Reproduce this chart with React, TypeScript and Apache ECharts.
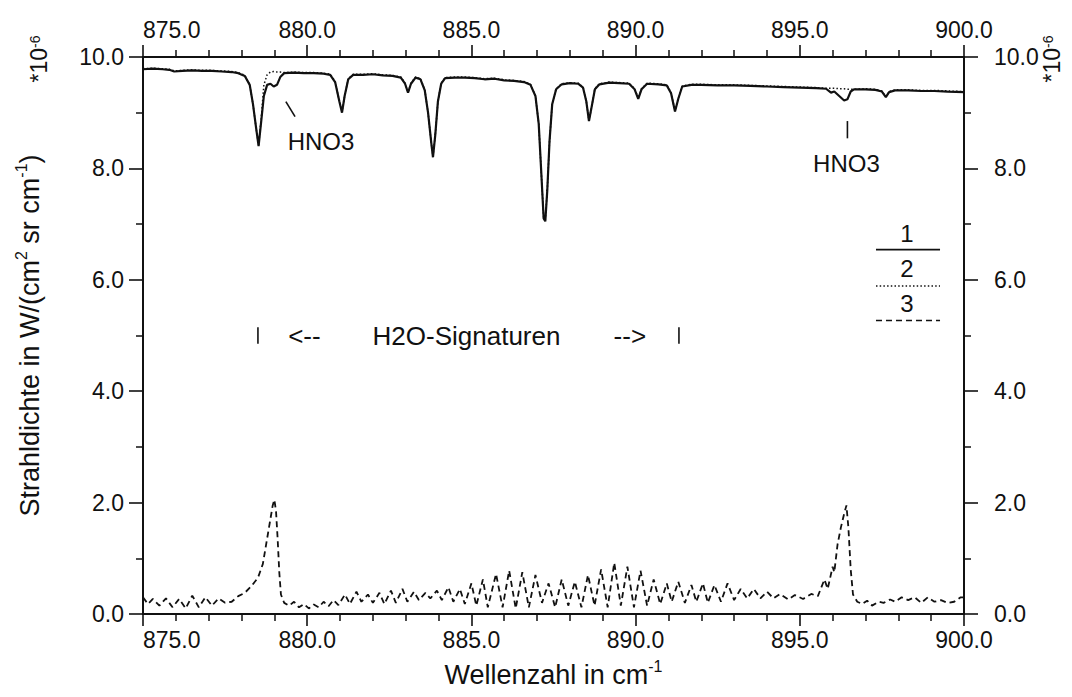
import React, { useEffect, useRef } from "react";
import * as echarts from "echarts";

// ---------------- data ----------------
const X_MIN = 875;
const X_MAX = 900;
const Y_MIN = 0;
const Y_MAX = 10;

// curve 1 (solid): measured spectrum, units 1e-6 W/(cm2 sr cm-1)
const spectrum1: [number, number][] = [
  [875.0, 9.78], [875.3, 9.79], [875.6, 9.78], [875.8, 9.77], [875.95, 9.74], [876.2, 9.75],
  [876.5, 9.76], [876.8, 9.75], [877.1, 9.75], [877.4, 9.74], [877.7, 9.73], [877.9, 9.71],
  [878.1, 9.66], [878.25, 9.5], [878.35, 9.15], [878.45, 8.7], [878.52, 8.4], [878.6, 8.85],
  [878.68, 9.3], [878.78, 9.5], [878.88, 9.52], [878.98, 9.47], [879.08, 9.5], [879.18, 9.64],
  [879.3, 9.71], [879.6, 9.72], [879.9, 9.71], [880.2, 9.71], [880.5, 9.7], [880.7, 9.68],
  [880.85, 9.55], [880.98, 9.2], [881.06, 9.0], [881.14, 9.3], [881.25, 9.6], [881.4, 9.68],
  [881.7, 9.68], [882.0, 9.69], [882.3, 9.67], [882.6, 9.66], [882.85, 9.63], [882.98, 9.52],
  [883.07, 9.36], [883.16, 9.52], [883.3, 9.63], [883.45, 9.6], [883.58, 9.4], [883.68, 9.0],
  [883.78, 8.45], [883.83, 8.2], [883.9, 8.6], [883.98, 9.2], [884.08, 9.52], [884.2, 9.62],
  [884.5, 9.63], [884.8, 9.63], [885.1, 9.62], [885.4, 9.6], [885.7, 9.61], [886.0, 9.58],
  [886.3, 9.57], [886.6, 9.55], [886.8, 9.5], [886.95, 9.3], [887.05, 8.8], [887.13, 7.9],
  [887.2, 7.1], [887.25, 7.05], [887.31, 7.6], [887.38, 8.5], [887.46, 9.15], [887.58, 9.42],
  [887.75, 9.51], [888.0, 9.53], [888.25, 9.52], [888.4, 9.45], [888.5, 9.2], [888.58, 8.85],
  [888.66, 9.1], [888.76, 9.42], [888.9, 9.51], [889.2, 9.54], [889.5, 9.53], [889.8, 9.52],
  [889.97, 9.42], [890.08, 9.25], [890.18, 9.42], [890.35, 9.52], [890.7, 9.51], [890.95, 9.49],
  [891.08, 9.35], [891.2, 9.02], [891.3, 9.25], [891.42, 9.47], [891.7, 9.5], [892.0, 9.5],
  [892.5, 9.49], [893.0, 9.49], [893.5, 9.48], [894.0, 9.47], [894.5, 9.46], [895.0, 9.45],
  [895.5, 9.44], [895.8, 9.43], [895.95, 9.36], [896.05, 9.38], [896.2, 9.3], [896.35, 9.22],
  [896.45, 9.24], [896.55, 9.38], [896.65, 9.42], [897.0, 9.42], [897.3, 9.41], [897.5, 9.38],
  [897.62, 9.28], [897.72, 9.37], [897.9, 9.4], [898.3, 9.4], [898.7, 9.39], [899.1, 9.39],
  [899.5, 9.38], [900.0, 9.37],
];

// curve 2 (dotted): calculated spectrum without HNO3
const spectrum2: [number, number][] = [
  [875.0, 9.79], [875.3, 9.8], [875.6, 9.79], [875.8, 9.78], [875.95, 9.75], [876.2, 9.76],
  [876.5, 9.77], [876.8, 9.76], [877.1, 9.76], [877.4, 9.75], [877.7, 9.74], [877.9, 9.72],
  [878.1, 9.67], [878.25, 9.5], [878.35, 9.15], [878.45, 8.7], [878.52, 8.42], [878.6, 8.9],
  [878.68, 9.5], [878.78, 9.68], [878.88, 9.73], [878.98, 9.74], [879.08, 9.73], [879.18, 9.73],
  [879.3, 9.72], [879.6, 9.73], [879.9, 9.72], [880.2, 9.72], [880.5, 9.71], [880.7, 9.69],
  [880.85, 9.56], [880.98, 9.2], [881.06, 9.02], [881.14, 9.3], [881.25, 9.61], [881.4, 9.69],
  [881.7, 9.69], [882.0, 9.7], [882.3, 9.68], [882.6, 9.67], [882.85, 9.64], [882.98, 9.53],
  [883.07, 9.37], [883.16, 9.53], [883.3, 9.64], [883.45, 9.61], [883.58, 9.41], [883.68, 9.0],
  [883.78, 8.45], [883.83, 8.22], [883.9, 8.6], [883.98, 9.2], [884.08, 9.53], [884.2, 9.63],
  [884.5, 9.64], [884.8, 9.64], [885.1, 9.63], [885.4, 9.61], [885.7, 9.62], [886.0, 9.59],
  [886.3, 9.58], [886.6, 9.56], [886.8, 9.51], [886.95, 9.3], [887.05, 8.8], [887.13, 7.9],
  [887.2, 7.12], [887.25, 7.08], [887.31, 7.6], [887.38, 8.5], [887.46, 9.15], [887.58, 9.43],
  [887.75, 9.52], [888.0, 9.54], [888.25, 9.53], [888.4, 9.46], [888.5, 9.2], [888.58, 8.86],
  [888.66, 9.1], [888.76, 9.43], [888.9, 9.52], [889.2, 9.55], [889.5, 9.54], [889.8, 9.53],
  [889.97, 9.43], [890.08, 9.26], [890.18, 9.43], [890.35, 9.53], [890.7, 9.52], [890.95, 9.5],
  [891.08, 9.36], [891.2, 9.03], [891.3, 9.26], [891.42, 9.48], [891.7, 9.51], [892.0, 9.51],
  [892.5, 9.5], [893.0, 9.5], [893.5, 9.49], [894.0, 9.48], [894.5, 9.47], [895.0, 9.46],
  [895.5, 9.45], [895.8, 9.44], [895.95, 9.44], [896.05, 9.44], [896.2, 9.43], [896.35, 9.43],
  [896.45, 9.42], [896.55, 9.42], [896.65, 9.42], [897.0, 9.43], [897.3, 9.42], [897.5, 9.39],
  [897.62, 9.29], [897.72, 9.38], [897.9, 9.41], [898.3, 9.41], [898.7, 9.4], [899.1, 9.4],
  [899.5, 9.39], [900.0, 9.38],
];

// curve 3 (dashed): difference / residual
const spectrum3: [number, number][] = [
  [875.0, 0.3], [875.15, 0.18], [875.3, 0.27], [875.5, 0.15], [875.7, 0.28], [875.9, 0.12],
  [876.1, 0.27], [876.3, 0.1], [876.5, 0.33], [876.7, 0.12], [876.9, 0.3], [877.1, 0.15],
  [877.3, 0.28], [877.5, 0.2], [877.7, 0.22], [877.9, 0.32], [878.1, 0.38], [878.3, 0.5],
  [878.5, 0.65], [878.65, 0.9], [878.75, 1.25], [878.85, 1.6], [878.95, 1.95], [879.0, 2.05],
  [879.05, 1.85], [879.1, 1.35], [879.15, 0.75], [879.2, 0.35], [879.3, 0.2], [879.45, 0.15],
  [879.6, 0.22], [879.75, 0.12], [879.9, 0.18], [880.05, 0.1], [880.2, 0.17], [880.35, 0.12],
  [880.5, 0.22], [880.65, 0.14], [880.8, 0.25], [880.95, 0.16], [881.15, 0.35], [881.3, 0.18],
  [881.5, 0.4], [881.65, 0.22], [881.85, 0.35], [882.0, 0.2], [882.2, 0.38], [882.35, 0.18],
  [882.55, 0.42], [882.7, 0.2], [882.9, 0.45], [883.05, 0.22], [883.25, 0.4], [883.4, 0.25],
  [883.6, 0.38], [883.75, 0.28], [883.95, 0.42], [884.1, 0.25], [884.3, 0.48], [884.45, 0.22],
  [884.65, 0.45], [884.8, 0.18], [885.0, 0.55], [885.15, 0.15], [885.35, 0.62], [885.5, 0.12],
  [885.75, 0.72], [885.95, 0.12], [886.15, 0.78], [886.35, 0.1], [886.55, 0.75], [886.75, 0.12],
  [886.95, 0.7], [887.15, 0.2], [887.35, 0.55], [887.55, 0.12], [887.75, 0.62], [887.95, 0.15],
  [888.15, 0.58], [888.35, 0.12], [888.55, 0.7], [888.75, 0.15], [888.95, 0.8], [889.15, 0.12],
  [889.35, 0.92], [889.55, 0.15], [889.75, 0.85], [889.95, 0.12], [890.15, 0.78], [890.35, 0.15],
  [890.55, 0.62], [890.75, 0.18], [890.95, 0.55], [891.1, 0.22], [891.3, 0.58], [891.5, 0.2],
  [891.7, 0.52], [891.85, 0.22], [892.05, 0.55], [892.2, 0.2], [892.4, 0.52], [892.6, 0.22],
  [892.8, 0.55], [893.0, 0.25], [893.2, 0.45], [893.4, 0.28], [893.6, 0.45], [893.8, 0.28],
  [894.0, 0.4], [894.2, 0.28], [894.4, 0.36], [894.65, 0.26], [894.85, 0.34], [895.1, 0.27],
  [895.35, 0.36], [895.55, 0.32], [895.75, 0.62], [895.85, 0.45], [896.0, 0.85], [896.05, 0.75],
  [896.15, 1.25], [896.25, 1.55], [896.35, 1.8], [896.42, 1.95], [896.48, 1.55], [896.55, 0.8],
  [896.62, 0.35], [896.75, 0.22], [896.9, 0.18], [897.05, 0.24], [897.2, 0.15], [897.4, 0.22],
  [897.55, 0.2], [897.75, 0.26], [897.9, 0.22], [898.1, 0.3], [898.3, 0.25], [898.5, 0.3],
  [898.7, 0.2], [898.9, 0.3], [899.1, 0.22], [899.3, 0.25], [899.5, 0.2], [899.7, 0.22],
  [899.9, 0.3], [900.0, 0.3],
];

const legendLabels = ["1", "2", "3"];

// annotation anchors, in data units
const hno3Notes = [
  { text: "HNO3", at: [880.42, 8.48], from: [879.35, 9.2], to: [879.63, 8.93] },
  { text: "HNO3", at: [896.42, 8.09], from: [896.45, 8.85], to: [896.45, 8.54] },
];
const h2oRange = { left: 878.5, right: 891.32, level: 5.0, half: 0.15 };
const h2oTexts = [
  { text: "<--", x: 879.42, align: "left" },
  { text: "H2O-Signaturen", x: 884.85, align: "center" },
  { text: "-->", x: 890.32, align: "right" },
];
const legendAnchor = { x1: 897.32, x2: 899.27, labelX: 898.26, labelY: [6.84, 6.2, 5.57], lineY: [6.54, 5.89, 5.27] };

// ---------------- styles ----------------
const INK = "#111";
const TICK_FONT = "'Liberation Sans', Arial, sans-serif";
const TEXT_FONT = "'Liberation Sans', Arial, sans-serif";
const lineDashes: (number[] | "solid")[] = ["solid", [1.5, 2.2], [6, 4]];

const fmt = (v: number) => v.toFixed(1);

function xAxisCfg(position: "top" | "bottom", withName: boolean) {
  return {
    type: "value",
    position,
    min: X_MIN,
    max: X_MAX,
    interval: 5,
    axisLine: { show: true, onZero: false, lineStyle: { color: INK, width: 2 } },
    axisTick: { show: true, inside: false, length: 12, lineStyle: { color: INK, width: 1.6 } },
    minorTick: { show: true, splitNumber: 5, length: 7, lineStyle: { color: INK, width: 1.5 } },
    splitLine: { show: false },
    minorSplitLine: { show: false },
    axisLabel: {
      formatter: fmt,
      color: INK,
      fontSize: 23,
      fontFamily: TICK_FONT,
      margin: position === "bottom" ? 14 : 16,
      alignMinLabel: "left",
    },
    name: withName ? "Wellenzahl in cm{sup|-1}" : "",
    nameLocation: "middle",
    nameGap: 44,
    nameTextStyle: {
      color: INK,
      fontSize: 27,
      fontFamily: TEXT_FONT,
      lineHeight: 34,
      rich: { sup: { fontSize: 16, fontFamily: TEXT_FONT, color: INK, verticalAlign: "top", lineHeight: 34 } },
    },
  };
}

function yAxisCfg(position: "left" | "right", withName: boolean) {
  return {
    type: "value",
    position,
    min: Y_MIN,
    max: Y_MAX,
    interval: 2,
    axisLine: { show: true, onZero: false, lineStyle: { color: INK, width: 2 } },
    axisTick: { show: true, inside: false, length: 14, lineStyle: { color: INK, width: 1.6 } },
    minorTick: { show: true, splitNumber: 2, length: 7, lineStyle: { color: INK, width: 1.5 } },
    splitLine: { show: false },
    minorSplitLine: { show: false },
    axisLabel: {
      formatter: fmt,
      color: INK,
      fontSize: 23,
      fontFamily: TICK_FONT,
      margin: position === "left" ? 19 : 30,
    },
    name: withName ? "Strahldichte in W/(cm{sup|2} sr cm{sup|-1})" : "",
    nameLocation: "middle",
    nameRotate: 90,
    nameGap: 96,
    nameTextStyle: {
      color: INK,
      fontSize: 27,
      fontFamily: TEXT_FONT,
      lineHeight: 34,
      rich: { sup: { fontSize: 16, fontFamily: TEXT_FONT, color: INK, verticalAlign: "top", lineHeight: 34 } },
    },
  };
}

export default function App() {
  const ref = useRef<HTMLDivElement>(null);

  useEffect(() => {
    const el = ref.current;
    if (!el) return;
    const chart = echarts.init(el, null, { renderer: "svg" });
    const series = [spectrum1, spectrum2, spectrum3].map((data, i) => ({
      type: "line",
      name: legendLabels[i],
      data,
      xAxisIndex: 0,
      yAxisIndex: 0,
      showSymbol: false,
      symbol: "none",
      smooth: false,
      z: i === 1 ? 3 : 2,
      lineStyle: { color: INK, width: i === 0 ? 2.2 : i === 1 ? 1.5 : 1.8, type: lineDashes[i] },
    }));

    chart.setOption({
      animation: false,
      backgroundColor: "#fff",
      grid: { left: 143, right: 108, top: 57, bottom: 83, outerBoundsMode: "none", containLabel: false },
      xAxis: [xAxisCfg("bottom", true), xAxisCfg("top", false)],
      yAxis: [yAxisCfg("left", true), yAxisCfg("right", false)],
      series,
    });

    const p = (x: number, y: number) => chart.convertToPixel({ seriesIndex: 0 }, [x, y]) as number[];
    const graphics: any[] = [];
    const textStyle = (text: string, size: number, align = "center") => ({
      text,
      fill: INK,
      fontSize: size,
      fontFamily: TEXT_FONT,
      align,
      verticalAlign: "middle",
    });

    hno3Notes.forEach((n) => {
      const a = p(n.at[0], n.at[1]);
      const f = p(n.from[0], n.from[1]);
      const t = p(n.to[0], n.to[1]);
      graphics.push({ type: "text", x: a[0], y: a[1], style: textStyle(n.text, 24) });
      graphics.push({ type: "line", shape: { x1: f[0], y1: f[1], x2: t[0], y2: t[1] }, style: { stroke: INK, lineWidth: 1.6 } });
    });

    [h2oRange.left, h2oRange.right].forEach((x) => {
      const a = p(x, h2oRange.level + h2oRange.half);
      const b = p(x, h2oRange.level - h2oRange.half);
      graphics.push({ type: "line", shape: { x1: a[0], y1: a[1], x2: b[0], y2: b[1] }, style: { stroke: INK, lineWidth: 1.6 } });
    });
    h2oTexts.forEach((t) => {
      const a = p(t.x, h2oRange.level);
      graphics.push({ type: "text", x: a[0], y: a[1], style: textStyle(t.text, 26, t.align) });
    });

    legendLabels.forEach((lab, i) => {
      const tp = p(legendAnchor.labelX, legendAnchor.labelY[i]);
      const l1 = p(legendAnchor.x1, legendAnchor.lineY[i]);
      const l2 = p(legendAnchor.x2, legendAnchor.lineY[i]);
      graphics.push({ type: "text", x: tp[0], y: tp[1], style: textStyle(lab, 24) });
      const dash = lineDashes[i];
      graphics.push({
        type: "line",
        shape: { x1: l1[0], y1: l1[1], x2: l2[0], y2: l2[1] },
        style: { stroke: INK, lineWidth: i === 0 ? 1.8 : 1.5, lineDash: dash === "solid" ? null : dash },
      });
    });

    // exponent markers "*10^-6" at the top of both vertical axes
    const topLeft = p(X_MIN, Y_MAX);
    const topRight = p(X_MAX, Y_MAX);
    [topLeft[0] - 104, topRight[0] + 88].forEach((x) => {
      graphics.push({
        type: "text",
        x,
        y: topLeft[1] + 2,
        rotation: Math.PI / 2,
        style: {
          text: "*10{sup|-6}",
          fill: INK,
          fontSize: 23,
          fontFamily: TEXT_FONT,
          align: "center",
          verticalAlign: "middle",
          rich: { sup: { fontSize: 14, fontFamily: TEXT_FONT, fill: INK, verticalAlign: "top" } },
        },
      });
    });

    chart.setOption({ graphic: graphics });

    return () => chart.dispose();
  }, []);

  return (
    <div
      ref={ref}
      style={{ position: "fixed", left: 0, top: 0, width: 1072, height: 697, background: "#fff" }}
    />
  );
}
